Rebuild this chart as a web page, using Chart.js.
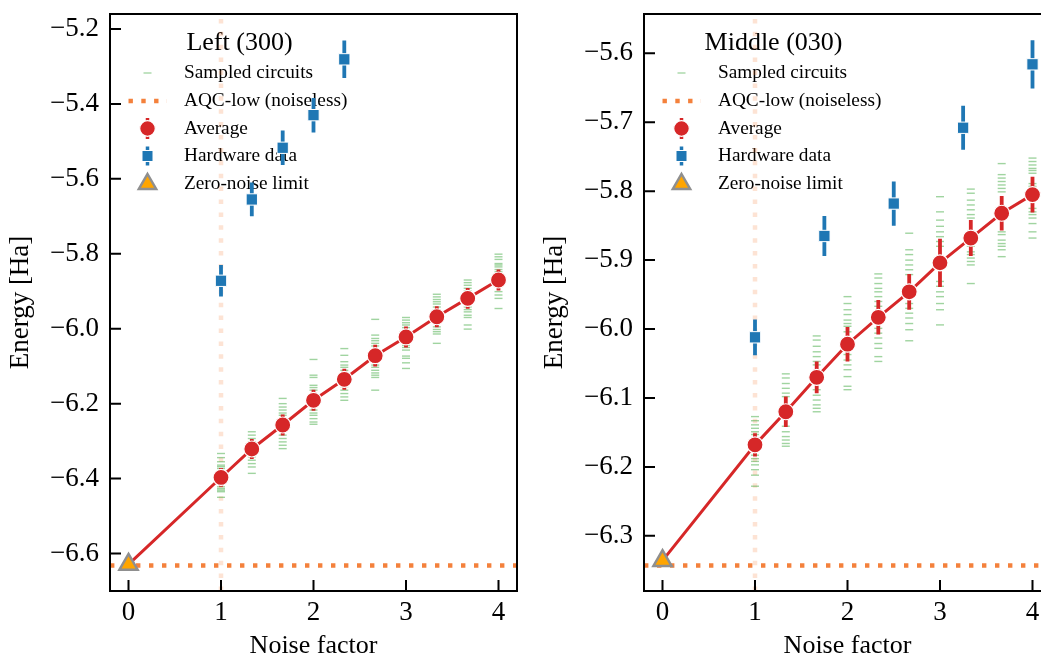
<!DOCTYPE html>
<html><head><meta charset="utf-8">
<script src="https://cdn.jsdelivr.net/npm/chart.js@4.4.0/dist/chart.umd.min.js"></script>
<style>
html,body{margin:0;padding:0;background:#fff;overflow:hidden;width:1041px;height:662px;}
#wrap{position:relative;width:1041px;height:662px;overflow:hidden;}
canvas{position:absolute;top:0;}
</style></head><body>
<div id="wrap">
<canvas id="leftChart" width="530" height="662" style="left:0px"></canvas>
<canvas id="rightChart" width="530" height="662" style="left:534px"></canvas>
</div>
<script>
// ---------- data ----------
const noiseFactors = [1, 1.333, 1.667, 2, 2.333, 2.667, 3, 3.333, 3.667, 4];
const xTicks = [0, 1, 2, 3, 4];
const xRange = [-0.2, 4.2];
const legendLabels = ['Sampled circuits', 'AQC-low (noiseless)', 'Average', 'Hardware data', 'Zero-noise limit'];

// Left (300)
const leftTitle = 'Left (300)';
const leftYTicks = [-6.6, -6.4, -6.2, -6.0, -5.8, -5.6, -5.4, -5.2];
const leftYRange = [-6.70, -5.16];
const leftAverage = [-6.397, -6.321, -6.257, -6.191, -6.135, -6.072, -6.022, -5.968, -5.919, -5.870];
const leftAverageErr = [0.025, 0.027, 0.028, 0.028, 0.028, 0.029, 0.028, 0.028, 0.028, 0.028];
const leftHardwareX = [1, 1.333, 1.667, 2, 2.333];
const leftHardware = [-5.872, -5.655, -5.517, -5.430, -5.281];
const leftHardwareErr = [0.042, 0.045, 0.046, 0.046, 0.050];
const leftZeroNoise = -6.629;
const leftAQC = -6.632;
const leftSamples = [
  [-6.333,-6.344,-6.355,-6.364,-6.368,-6.373,-6.422,-6.427,-6.431,-6.435,-6.450],
  [-6.275,-6.284,-6.293,-6.302,-6.311,-6.342,-6.351,-6.360,-6.369,-6.386],
  [-6.186,-6.200,-6.209,-6.217,-6.225,-6.231,-6.284,-6.293,-6.302,-6.311,-6.320],
  [-6.082,-6.124,-6.130,-6.151,-6.157,-6.164,-6.217,-6.225,-6.231,-6.240,-6.249,-6.255],
  [-6.053,-6.071,-6.088,-6.097,-6.103,-6.111,-6.155,-6.164,-6.173,-6.182,-6.191],
  [-5.975,-6.017,-6.026,-6.032,-6.039,-6.046,-6.097,-6.103,-6.111,-6.118,-6.124,-6.130,-6.164],
  [-5.970,-5.977,-5.984,-5.990,-5.997,-6.044,-6.050,-6.057,-6.073,-6.079,-6.091,-6.106],
  [-5.908,-5.915,-5.922,-5.928,-5.934,-5.942,-5.950,-5.995,-6.002,-6.008,-6.014,-6.039],
  [-5.870,-5.877,-5.884,-5.892,-5.899,-5.906,-5.942,-5.949,-5.955,-5.964,-5.970,-5.990,-6.001],
  [-5.801,-5.808,-5.815,-5.826,-5.830,-5.835,-5.842,-5.848,-5.861,-5.879,-5.888,-5.901,-5.910,-5.919,-5.946]
];

// Middle (030)
const rightTitle = 'Middle (030)';
const rightYTicks = [-6.3, -6.2, -6.1, -6.0, -5.9, -5.8, -5.7, -5.6];
const rightYRange = [-6.380, -5.543];
const rightAverage = [-6.168, -6.120, -6.070, -6.022, -5.983, -5.946, -5.904, -5.868, -5.832, -5.805];
const rightAverageErr = [0.017, 0.022, 0.023, 0.025, 0.025, 0.026, 0.035, 0.026, 0.025, 0.026];
const rightHardwareX = [1, 1.75, 2.5, 3.25, 4];
const rightHardware = [-6.012, -5.865, -5.818, -5.708, -5.616];
const rightHardwareErr = [0.026, 0.029, 0.032, 0.032, 0.035];
const rightZeroNoise = -6.336;
const rightAQC = -6.343;
const rightSamples = [
  [-6.127,-6.133,-6.139,-6.144,-6.149,-6.153,-6.158,-6.183,-6.188,-6.192,-6.197,-6.204,-6.212,-6.228],
  [-6.065,-6.071,-6.079,-6.086,-6.093,-6.098,-6.141,-6.149,-6.156,-6.161,-6.166,-6.170],
  [-6.010,-6.016,-6.025,-6.033,-6.040,-6.047,-6.052,-6.088,-6.096,-6.103,-6.110,-6.115,-6.120],
  [-5.953,-5.963,-5.972,-5.979,-5.987,-5.992,-5.996,-6.004,-6.037,-6.045,-6.052,-6.059,-6.069,-6.083,-6.088],
  [-5.920,-5.926,-5.934,-5.941,-5.946,-5.953,-5.960,-5.967,-5.999,-6.006,-6.013,-6.021,-6.028,-6.040,-6.047],
  [-5.861,-5.885,-5.892,-5.900,-5.907,-5.914,-5.921,-5.963,-5.970,-5.977,-5.984,-5.992,-6.001,-6.017],
  [-5.808,-5.830,-5.842,-5.851,-5.859,-5.866,-5.873,-5.880,-5.931,-5.938,-5.946,-5.953,-5.963,-5.972,-5.994],
  [-5.797,-5.803,-5.813,-5.820,-5.827,-5.834,-5.839,-5.880,-5.888,-5.892,-5.897,-5.902,-5.907,-5.934],
  [-5.760,-5.776,-5.781,-5.786,-5.791,-5.796,-5.801,-5.859,-5.863,-5.871,-5.876,-5.880,-5.885,-5.895],
  [-5.752,-5.757,-5.762,-5.767,-5.770,-5.774,-5.789,-5.793,-5.825,-5.830,-5.834,-5.839,-5.847,-5.859,-5.868]
];

// ---------- styles ----------
const FONT = '"Liberation Serif", "Times New Roman", serif';
const C_RED = '#d62728', C_BLUE = '#1f77b4', C_ORANGE = '#f4813c';
const C_PEACH = 'rgba(244,129,60,0.22)', C_GREEN = 'rgba(44,160,44,0.45)';
Chart.defaults.font.family = FONT;

function errSegments(xs, ys, es) {
  const d = [];
  xs.forEach((x, i) => { d.push({x, y: ys[i] - es[i]}, {x, y: ys[i] + es[i]}, {x, y: null}); });
  return d;
}
function fmtY(v) { return (v < 0 ? '\u2212' : '') + Math.abs(v).toFixed(1); }

const framePlugin = {
  id: 'frame',
  afterDraw(chart) {
    const {ctx, chartArea: {left, right, top, bottom}, scales: {x, y}} = chart;
    ctx.save();
    ctx.strokeStyle = '#000'; ctx.lineWidth = 2;
    ctx.strokeRect(left, top, right - left, bottom - top);
    ctx.beginPath();
    x.ticks.forEach(t => { const p = x.getPixelForValue(t.value); ctx.moveTo(p, bottom); ctx.lineTo(p, bottom - 11); });
    y.ticks.forEach(t => { const p = y.getPixelForValue(t.value); ctx.moveTo(left, p); ctx.lineTo(left + 11, p); });
    ctx.stroke();
    ctx.restore();
  }
};

const legendPlugin = {
  id: 'customLegend',
  beforeDatasetsDraw(chart, args, opts) {
    const ctx = chart.ctx, L = chart.chartArea.left, T = chart.chartArea.top;
    const sx = L + 37.5, tx = L + 74;
    const rows = [59, 87, 114.5, 142, 170].map(v => T + v);
    ctx.save();
    ctx.fillStyle = '#000'; ctx.textBaseline = 'middle';
    ctx.font = '26px ' + FONT; ctx.textAlign = 'center';
    ctx.fillText(opts.title, L + 129.5, T + 29);
    ctx.font = '19.3px ' + FONT; ctx.textAlign = 'left';
    legendLabels.forEach((s, i) => ctx.fillText(s, tx, rows[i]));
    // sampled circuits
    ctx.strokeStyle = C_GREEN; ctx.lineWidth = 1.3;
    ctx.beginPath(); ctx.moveTo(sx - 4, rows[0]); ctx.lineTo(sx + 4, rows[0]); ctx.stroke();
    // AQC
    ctx.strokeStyle = C_ORANGE; ctx.lineWidth = 4.4; ctx.setLineDash([4.4, 8.4]); ctx.lineCap = 'butt';
    ctx.beginPath(); ctx.moveTo(sx - 19, rows[1]); ctx.lineTo(sx + 19.5, rows[1]); ctx.stroke();
    ctx.setLineDash([]);
    // Average
    ctx.strokeStyle = C_RED; ctx.lineWidth = 3.5;
    ctx.beginPath(); ctx.moveTo(sx, rows[2] - 10.5); ctx.lineTo(sx, rows[2] + 10.5); ctx.stroke();
    ctx.fillStyle = C_RED; ctx.strokeStyle = '#fff'; ctx.lineWidth = 1.2;
    ctx.beginPath(); ctx.arc(sx, rows[2], 7.8, 0, Math.PI * 2); ctx.fill(); ctx.stroke();
    // Hardware
    ctx.strokeStyle = C_BLUE; ctx.lineWidth = 3.5;
    ctx.beginPath(); ctx.moveTo(sx, rows[3] - 9.5); ctx.lineTo(sx, rows[3] + 9.5); ctx.stroke();
    ctx.fillStyle = C_BLUE; ctx.strokeStyle = '#fff'; ctx.lineWidth = 1;
    ctx.beginPath(); ctx.rect(sx - 5.5, rows[3] - 5.5, 11, 11); ctx.fill(); ctx.stroke();
    // Zero-noise
    const r = 10, cy = rows[4];
    ctx.beginPath();
    ctx.moveTo(sx, cy - r); ctx.lineTo(sx + r * 0.866, cy + r / 2); ctx.lineTo(sx - r * 0.866, cy + r / 2); ctx.closePath();
    ctx.fillStyle = '#ffa500'; ctx.fill();
    ctx.strokeStyle = '#8f8f8f'; ctx.lineWidth = 2.5; ctx.stroke();
    ctx.restore();
  }
};

function makeChart(id, title, yTicks, yRange, avg, avgErr, hwX, hw, hwErr, zn, aqc, samples) {
  const sampleData = noiseFactors.flatMap((x, i) => samples[i].map(v => ({x, y: v})));
  const datasets = [
    {label: 'vline', data: [{x: 1, y: yRange[0]}, {x: 1, y: yRange[1]}], showLine: true, pointRadius: 0,
     borderColor: C_PEACH, borderWidth: 4.5, borderDash: [4.5, 8.4], borderCapStyle: 'butt', order: 10},
    {label: legendLabels[1], data: [{x: xRange[0], y: aqc}, {x: xRange[1], y: aqc}], showLine: true, pointRadius: 0,
     borderColor: C_ORANGE, borderWidth: 4.4, borderDash: [4.4, 8.6], borderCapStyle: 'butt', order: 9},
    {label: legendLabels[0], data: sampleData, pointStyle: 'line', pointRadius: 4, pointBorderWidth: 1.4,
     pointBorderColor: C_GREEN, pointBackgroundColor: C_GREEN, order: 8},
    {label: 'fit', data: [{x: 0, y: zn}].concat(noiseFactors.map((x, i) => ({x, y: avg[i]}))), showLine: true,
     pointRadius: 0, borderColor: C_RED, borderWidth: 3, order: 7},
    {label: 'avgErr', data: errSegments(noiseFactors, avg, avgErr), showLine: true, pointRadius: 0,
     borderColor: C_RED, borderWidth: 3.8, borderCapStyle: 'butt', order: 6},
    {label: legendLabels[2], data: noiseFactors.map((x, i) => ({x, y: avg[i]})), pointStyle: 'circle', pointRadius: 8,
     pointBackgroundColor: C_RED, pointBorderColor: '#fff', pointBorderWidth: 1.2, order: 5},
    {label: 'hwErr', data: errSegments(hwX, hw, hwErr), showLine: true, pointRadius: 0,
     borderColor: C_BLUE, borderWidth: 3.8, borderCapStyle: 'butt', order: 4},
    {label: legendLabels[3], data: hwX.map((x, i) => ({x, y: hw[i]})), pointStyle: 'rect', pointRadius: 8,
     pointBackgroundColor: C_BLUE, pointBorderColor: '#fff', pointBorderWidth: 1, order: 3},
    {label: legendLabels[4], data: [{x: 0, y: zn}], pointStyle: 'triangle', pointRadius: 10.5,
     pointBackgroundColor: '#ffa500', pointBorderColor: '#8f8f8f', pointBorderWidth: 2.5, order: 1}
  ];
  return new Chart(document.getElementById(id), {
    type: 'scatter',
    data: {datasets},
    options: {
      responsive: false, animation: false, devicePixelRatio: 1,
      layout: {padding: {top: 14, right: 12, left: 0, bottom: 0}},
      plugins: {legend: {display: false}, tooltip: {enabled: false}, customLegend: {title}},
      scales: {
        x: {
          type: 'linear', min: xRange[0], max: xRange[1],
          afterFit: s => { s.height = 71; s.paddingLeft = 0; s.paddingRight = 0; s.paddingTop = 0; s.paddingBottom = 0; },
          afterBuildTicks: s => { s.ticks = xTicks.map(v => ({value: v})); },
          grid: {display: false, drawTicks: false}, border: {display: false},
          ticks: {padding: 6, color: '#000', font: {size: 27}, callback: v => String(v)},
          title: {display: true, text: 'Noise factor', color: '#000', font: {size: 26}, padding: {top: 0, bottom: 0}}
        },
        y: {
          type: 'linear', min: yRange[0], max: yRange[1],
          afterFit: s => { s.width = 110; s.paddingLeft = 0; s.paddingRight = 0; s.paddingTop = 0; s.paddingBottom = 0; },
          afterBuildTicks: s => { s.ticks = yTicks.map(v => ({value: v})); },
          grid: {display: false, drawTicks: false}, border: {display: false},
          ticks: {padding: 11, color: '#000', font: {size: 27}, callback: v => fmtY(v)},
          title: {display: true, text: 'Energy [Ha]', color: '#000', font: {size: 27}, padding: {top: 5, bottom: 0}}
        }
      }
    },
    plugins: [legendPlugin, framePlugin]
  });
}

makeChart('leftChart', leftTitle, leftYTicks, leftYRange, leftAverage, leftAverageErr,
  leftHardwareX, leftHardware, leftHardwareErr, leftZeroNoise, leftAQC, leftSamples);
makeChart('rightChart', rightTitle, rightYTicks, rightYRange, rightAverage, rightAverageErr,
  rightHardwareX, rightHardware, rightHardwareErr, rightZeroNoise, rightAQC, rightSamples);
</script>
</body></html>
